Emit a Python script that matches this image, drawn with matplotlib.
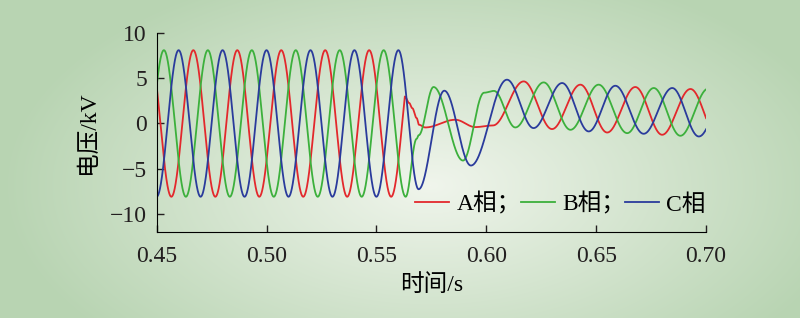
import numpy as np
import matplotlib
matplotlib.use('Agg')
from matplotlib import pyplot as plt

plt.rcParams['font.family'] = ['Liberation Serif', 'Noto Sans CJK SC']
plt.rcParams['font.size'] = 17
plt.rcParams['axes.unicode_minus'] = True

# drie fasen A, B, C
labels = ['A相；', 'B相；', 'C相']
colors = ['#e3282c', '#3cb03c', '#2a3b9c']

# voor de fout: 50 Hz, 8.1 kV, tijdstip van een top per fase
f_pre = 50
amp_pre = 8.1
peak_pre = [0.4867, 0.4933, 0.5000]
t_switch = [0.5629, 0.5633, 0.5600]

# na de fout: toppen/dalen en knikken (s, kV)
knots_t_A = [0.5649, 0.5663, 0.5683, 0.5694, 0.5722, 0.5859, 0.5950, 0.6030,
             0.6170, 0.6299, 0.6428, 0.6550, 0.6678, 0.6800, 0.6929, 0.7054]
knots_v_A = [2.26, 1.70, 0.60, -0.15, -0.44, 0.41, -0.40, -0.22,
             4.65, -0.62, 4.29, -1.00, 4.03, -1.25, 3.81, -1.50]
knots_t_B = [0.5683, 0.5692, 0.5760, 0.5894, 0.5990, 0.6035, 0.6132, 0.6261,
             0.6383, 0.6511, 0.6641, 0.6762, 0.6883, 0.7010]
knots_v_B = [-1.70, -1.30, 4.03, -4.10, 3.40, 3.60, -0.44, 4.54,
             -0.70, 4.29, -1.07, 3.92, -1.36, 3.85]
knots_t_C = [0.5692, 0.5809, 0.5930, 0.6094, 0.6215, 0.6345, 0.6466, 0.6587,
             0.6716, 0.6846, 0.6967, 0.7095]
knots_v_C = [-7.27, 3.62, -4.65, 4.84, -0.51, 4.47, -0.88, 4.17,
             -1.14, 3.92, -1.44, 3.70]
knots_t = [knots_t_A, knots_t_B, knots_t_C]
knots_v = [knots_v_A, knots_v_B, knots_v_C]

xticks = [0.45, 0.50, 0.55, 0.60, 0.65, 0.70]
yticks = [-10, -5, 0, 5, 10]


def curve(i, t):
    v = amp_pre * np.cos(2 * np.pi * f_pre * (t - peak_pre[i]))
    kt = [t_switch[i]] + knots_t[i]
    kv = [amp_pre * np.cos(2 * np.pi * f_pre * (t_switch[i] - peak_pre[i]))] + knots_v[i]
    for j in range(len(kt) - 1):
        m = (t >= kt[j]) & (t <= kt[j + 1])
        s = (t[m] - kt[j]) / (kt[j + 1] - kt[j])
        v[m] = kv[j] + (kv[j + 1] - kv[j]) * (1 - np.cos(np.pi * s)) / 2
    return v


fig = plt.figure(figsize=(8, 3.18), dpi=100)

# achtergrond: lichtgroen verloop
bg = fig.add_axes([0, 0, 1, 1], zorder=-1)
yy, xx = np.mgrid[0:318, 0:800]
d = np.sqrt(((xx - 430) / 430.0) ** 2 + ((yy - 185) / 230.0) ** 2)
d = np.clip(d, 0, 1)[..., None]
c_mid = np.array([240, 245, 236]) / 255.0
c_edge = np.array([184, 212, 178]) / 255.0
bg.imshow(c_mid * (1 - d) + c_edge * d, aspect='auto')
bg.axis('off')

ax = fig.add_axes([0.1958, 0.2704, 0.6868, 0.6258])
ax.patch.set_alpha(0)

t = np.linspace(0.45, 0.70, 6000)
for i in range(3):
    ax.plot(t, curve(i, t), color=colors[i], lw=1.3, label=labels[i])

ax.set_xlim(0.45, 0.70)
ax.set_ylim(-12, 10)
ax.set_xticks(xticks)
ax.set_xticklabels(['%.2f' % x for x in xticks])
ax.set_yticks(yticks)
ax.spines['top'].set_visible(False)
ax.spines['right'].set_visible(False)
ax.tick_params(direction='in', length=5, width=1, colors='#231f20')
ax.tick_params(axis='x', pad=10)
ax.tick_params(axis='y', pad=7)
ax.set_xlabel('时间/s', labelpad=5)
ax.set_ylabel('电压/kV', labelpad=8)

ax.legend(ncol=3, frameon=False, loc='center', bbox_to_anchor=(0.735, 0.14),
          handlelength=1.45, handletextpad=0.3, columnspacing=0.0, fontsize=17)

plt.savefig('out.png', dpi=100)
